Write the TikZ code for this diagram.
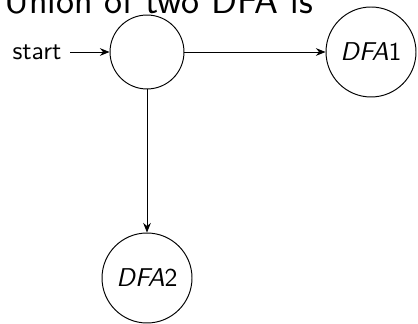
\documentclass[tikz,border=0pt]{standalone}
\usepackage{tikz}
\usetikzlibrary{arrows.meta,positioning}
\tikzset{
  >={Stealth[length=4pt,width=3.2pt]},
  state/.style={circle, draw=black, thin, inner sep=1pt},
  qstate/.style={state, minimum size=1.08cm},
  dfa/.style={state, minimum size=1.314cm, font=\fontsize{10.7}{13}\selectfont\sffamily},
  trans/.style={->, draw=black, thin},
  lbl/.style={font=\fontsize{10.7}{13}\selectfont\sffamily},
  heading/.style={font=\fontsize{15.9}{19}\selectfont\sffamily},
}
\begin{document}
\begin{tikzpicture}[x=0.0146cm,y=-0.0146cm]
        \useasboundingbox (0,0) rectangle (418,324);
        % heading, its top runs past the page edge
        \node[heading,anchor=base west,inner sep=0pt] (title) at (4,13.5) {Union of two DFA is};
        % states
        \node[qstate] (q0) at (147,52) {};
        \node[dfa] (dfa1) at (371,52) {\itshape DFA\upshape 1};
        \node[dfa] (dfa2) at (147,278) {\itshape DFA\upshape 2};
        \node[lbl,anchor=east] (start) at (70,52) {start};
        \draw[trans] (start) -- (q0);
        \draw[trans] (q0) -- (dfa1);
        \draw[trans] (q0) -- (dfa2);
      \end{tikzpicture}
\end{document}
